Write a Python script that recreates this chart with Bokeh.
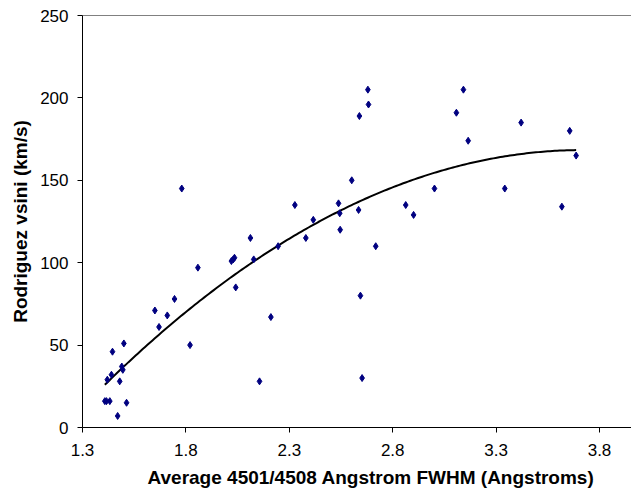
import numpy as np
from bokeh.plotting import figure
from bokeh.models import FixedTicker, LinearAxis, Title, Range1d, ColumnDataSource
from bokeh.embed import file_html
from bokeh.resources import INLINE

# Data
fwhm = [1.745, 1.65, 1.71, 1.67, 1.50, 1.82, 1.445, 1.49, 1.495, 1.44, 1.42, 1.48,
        1.408, 1.416, 1.432, 1.513, 1.47, 1.78, 2.327, 2.112, 2.246, 2.02, 2.029,
        2.035, 2.128, 1.858, 2.38, 2.041, 2.211, 2.156, 2.68, 2.683, 2.639, 2.602,
        2.538, 2.544, 2.635, 2.416, 2.863, 2.901, 2.546, 2.718, 2.644, 2.652,
        3.142, 3.108, 3.421, 3.165, 3.002, 3.342, 3.656, 3.687, 3.618]
vsini = [78, 71, 68, 61, 51, 50, 46, 37, 35, 32, 29, 28,
         16, 16, 16, 15, 7, 145, 135, 115, 110, 101, 102,
         103, 102, 97, 115, 85, 67, 28, 205, 196, 189, 150,
         136, 130, 132, 126, 135, 129, 120, 110, 80, 30,
         205, 191, 185, 174, 145, 145, 180, 165, 134]

x_ticks = [1.3, 1.8, 2.3, 2.8, 3.3, 3.8]
y_ticks = [0, 50, 100, 150, 200, 250]
x_title = "Average 4501/4508 Angstrom FWHM (Angstroms)"
y_title = "Rodriguez vsini (km/s)"

# Second-order polynomial trendline through the data
coef = np.polyfit(fwhm, vsini, 2)
tx = np.linspace(min(fwhm), max(fwhm), 200)
ty = np.polyval(coef, tx)

FONT = "Liberation Sans"

p = figure(width=631, height=498, output_backend="svg", toolbar_location=None,
           x_range=Range1d(1.3, 1.3 + 549 / 206.8), y_range=Range1d(0, 250),
           min_border_left=82, min_border_right=0, min_border_top=15,
           min_border_bottom=71)
p.outline_line_color = None
p.xgrid.visible = False
p.ygrid.visible = False
p.background_fill_color = "white"
p.border_fill_color = "white"

p.line(tx, ty, line_color="black", line_width=2)
src = ColumnDataSource(dict(x=fwhm, y=vsini))
p.scatter("x", "y", source=src, marker="diamond", size=7,
          fill_color="#000080", line_color="#000080")

for ax in (p.xaxis[0], p.yaxis[0]):
    ax.axis_line_color = "black"
    ax.axis_line_width = 1
    ax.major_tick_line_color = "black"
    ax.major_tick_in = 0
    ax.major_tick_out = 5
    ax.minor_tick_line_color = None
    ax.major_label_text_font = FONT
    ax.major_label_text_font_size = "17px"
    ax.major_label_text_color = "black"

p.xaxis[0].ticker = FixedTicker(ticks=x_ticks)
p.yaxis[0].ticker = FixedTicker(ticks=y_ticks)
p.xaxis[0].major_label_standoff = 11
p.yaxis[0].major_label_standoff = 9

ya = p.yaxis[0]
ya.axis_label = y_title
ya.axis_label_text_font = FONT
ya.axis_label_text_font_size = "19px"
ya.axis_label_text_font_style = "bold"
ya.axis_label_text_color = "black"
ya.axis_label_standoff = 6

top = LinearAxis(axis_line_color="#808080", major_tick_line_color=None,
                 minor_tick_line_color=None, major_label_text_color=None,
                 major_label_text_font_size="1px", ticker=FixedTicker(ticks=[]))
p.add_layout(top, "above")

p.add_layout(Title(text=x_title, align="left", offset=65, standoff=13,
                   text_font=FONT, text_font_size="19px",
                   text_font_style="bold", text_color="black"), "below")

open("out.html", "w").write(file_html(p, INLINE))
